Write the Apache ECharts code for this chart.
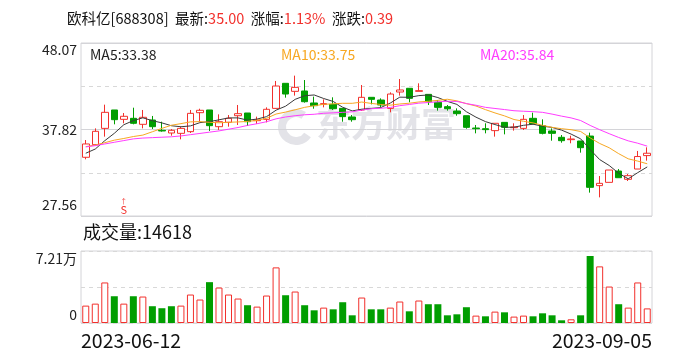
<!DOCTYPE html>
<html><head><meta charset="utf-8">
<script src="https://cdn.jsdelivr.net/npm/echarts@6/dist/echarts.min.js"></script>
<style>html,body{margin:0;padding:0;background:#fff}#c{width:688px;height:360px}</style>
</head><body><div id="c"></div>
<script>
const stockName = '欧科亿';
const stockCode = '688308';
const dates = [
 '2023-06-12','2023-06-13','2023-06-14','2023-06-15','2023-06-16','2023-06-19','2023-06-20','2023-06-21','2023-06-26','2023-06-27',
 '2023-06-28','2023-06-29','2023-06-30','2023-07-03','2023-07-04','2023-07-05','2023-07-06','2023-07-07','2023-07-10','2023-07-11',
 '2023-07-12','2023-07-13','2023-07-14','2023-07-17','2023-07-18','2023-07-19','2023-07-20','2023-07-21','2023-07-24','2023-07-25',
 '2023-07-26','2023-07-27','2023-07-28','2023-07-31','2023-08-01','2023-08-02','2023-08-03','2023-08-04','2023-08-07','2023-08-08',
 '2023-08-09','2023-08-10','2023-08-11','2023-08-14','2023-08-15','2023-08-16','2023-08-17','2023-08-18','2023-08-21','2023-08-22',
 '2023-08-23','2023-08-24','2023-08-25','2023-08-28','2023-08-29','2023-08-30','2023-08-31','2023-09-01','2023-09-04','2023-09-05'];
const opens = [34.52,36.02,37.95,40.13,39.02,39.14,38.43,38.94,37.72,37.40,
 37.36,37.56,39.81,40.13,38.15,38.67,39.45,39.77,38.86,39.02,
 40.32,43.29,42.34,42.38,40.96,40.80,40.80,40.32,39.30,40.13,
 41.63,41.31,40.32,42.26,42.70,42.34,41.98,41.04,40.52,40.01,
 39.45,37.99,37.91,37.68,38.66,38.03,37.95,39.14,38.27,37.64,
 36.89,36.61,36.45,37.04,31.16,31.55,32.89,31.91,33.13,34.72];
const closes = [36.10,37.60,39.85,38.98,39.38,38.55,39.26,38.15,37.64,37.72,
 37.95,39.73,40.09,38.27,38.74,39.14,39.69,38.74,38.94,40.21,
 42.97,42.02,42.81,41.11,40.64,40.88,40.28,39.34,38.98,41.63,
 41.39,40.72,42.02,42.50,41.51,42.42,41.11,40.44,40.28,39.69,
 38.07,37.91,37.80,38.55,38.07,38.11,39.02,38.47,37.36,37.36,
 36.49,36.69,35.66,30.96,31.43,33.01,32.10,32.34,34.61,35.00];
const lows = [34.28,35.94,36.97,38.43,38.55,38.43,37.95,37.87,37.56,37.08,
 36.65,37.40,38.74,37.64,37.76,38.15,38.35,38.23,38.47,38.66,
 40.28,41.59,41.83,41.00,40.28,40.44,40.13,38.74,38.74,40.01,
 40.80,40.40,39.85,41.83,41.04,42.34,40.72,40.05,40.05,39.45,
 37.91,37.36,37.36,36.97,37.24,37.68,37.76,38.47,37.24,36.49,
 36.25,36.18,35.07,30.33,29.77,31.55,32.10,31.71,33.13,34.12];
const highs = [36.57,37.95,40.76,40.13,39.77,40.40,40.13,39.42,38.74,37.87,
 38.15,40.13,40.28,40.13,39.61,39.53,40.72,39.77,39.34,40.44,
 43.57,43.29,44.20,43.68,41.71,41.39,41.63,40.32,39.53,43.09,
 41.63,41.51,42.22,43.80,42.70,43.29,41.98,41.31,40.72,40.32,
 39.45,38.35,38.55,38.55,38.66,38.55,39.53,39.81,39.02,37.95,
 37.16,37.08,36.45,37.44,32.30,33.01,33.13,32.54,35.27,35.70];
const ma5 = [35.00,35.50,36.49,37.36,38.38,38.87,39.20,38.86,38.60,38.26,
 38.14,38.24,38.63,38.75,38.96,39.19,39.19,38.92,39.05,39.34,
 40.11,40.58,41.39,41.82,41.91,41.49,41.14,40.45,40.02,40.22,
 40.32,40.41,40.95,41.65,41.63,41.83,41.91,41.60,41.15,40.79,
 39.92,39.28,38.75,38.40,38.08,38.09,38.31,38.44,38.21,38.06,
 37.74,37.27,36.71,35.43,34.25,33.55,32.63,31.97,32.70,33.38];
const ma10 = [35.78,35.98,36.25,36.55,36.75,36.98,37.15,37.55,37.95,38.32,
 38.51,38.72,38.75,38.67,38.61,38.67,38.71,38.77,38.90,39.15,
 39.65,39.88,40.15,40.44,40.63,40.80,40.86,40.92,40.92,41.07,
 40.91,40.78,40.70,40.84,40.93,41.08,41.16,41.27,41.40,41.21,
 40.88,40.60,40.17,39.78,39.43,39.00,38.79,38.60,38.31,38.07,
 37.91,37.79,37.58,36.82,36.16,35.65,34.95,34.34,34.07,33.75];
const ma20 = [35.75,35.90,36.10,36.30,36.50,36.70,36.80,36.85,36.90,36.95,
 37.05,37.20,37.35,37.50,37.65,37.85,38.05,38.30,38.50,38.74,
 39.08,39.30,39.45,39.56,39.62,39.74,39.79,39.85,39.91,40.11,
 40.28,40.33,40.43,40.64,40.78,40.94,41.01,41.10,41.16,41.14,
 40.89,40.69,40.44,40.31,40.18,40.04,39.98,39.93,39.85,39.64,
 39.40,39.19,38.88,38.30,37.79,37.32,36.87,36.47,36.19,35.84];
const volumes = [17400,19400,40600,26800,19400,26800,26500,16800,14800,16800,
 17400,28500,23500,40900,35500,28500,24500,17800,16400,27500,
 55700,27800,31500,17800,12700,15400,13700,20800,7700,25500,
 13700,13700,15400,21500,11700,22500,18800,18800,7700,8700,
 15800,7400,6700,11400,10700,6400,7400,6700,9700,7700,
 2700,3700,7700,67100,56700,36500,18800,15400,40600,14618];
const volumeUp = [1,1,1,0,1,0,1,0,0,0,
 1,1,1,0,1,1,1,0,1,1,
 1,0,1,0,0,1,0,0,0,1,
 0,0,1,1,0,1,0,0,0,0,
 0,1,0,1,0,1,1,0,0,0,
 0,1,0,0,1,1,0,1,1,1];
const priceTicks = [27.56, 37.82, 48.07];
const volumeMax = 72100;
const volumeTickLabels = ['0', '7.21万'];
const events = [{ index: 4, label: 'S' }];

const RED = '#f2302c', GREEN = '#009e00';
const FONT = '"Noto Sans CJK SC", "Noto Sans", sans-serif';
const n = dates.length;
const last = closes[n - 1], prev = closes[n - 2];
const chg = (last - prev).toFixed(2);
const pct = ((last - prev) / prev * 100).toFixed(2);

const chart = echarts.init(document.getElementById('c'), null, { renderer: 'canvas' });
const hidden = { axisLine: { show: false }, axisTick: { show: false }, axisLabel: { show: false }, splitLine: { show: false } };

chart.setOption({
  animation: false,
  backgroundColor: '#fff',
  textStyle: { fontFamily: FONT },
  grid: [
    { left: 81, right: 36, top: 43, height: 173, show: true, borderColor: '#d4d4d8', borderWidth: 1 },
    { left: 81, right: 36, top: 251, height: 72, show: true, borderColor: '#d4d4d8', borderWidth: 1 }
  ],
  xAxis: [
    Object.assign({ type: 'category', gridIndex: 0, data: dates, boundaryGap: true }, hidden),
    Object.assign({ type: 'category', gridIndex: 1, data: dates, boundaryGap: true, position: 'top' }, hidden),
    { type: 'category', gridIndex: 1, data: [dates[0], dates[n - 1]], boundaryGap: false, position: 'bottom',
      axisLine: { show: false }, axisTick: { show: false }, splitLine: { show: false },
      axisLabel: { show: true, interval: 0, fontSize: 19.5, color: '#111', margin: 8, fontFamily: FONT,
        alignMinLabel: 'left', alignMaxLabel: 'right' } }
  ],
  yAxis: [
    Object.assign({ type: 'value', gridIndex: 0, min: priceTicks[0], max: priceTicks[priceTicks.length - 1], position: 'left' }, hidden),
    { type: 'value', gridIndex: 0, min: 0, max: 4, interval: 1, position: 'left',
      axisLine: { show: false }, axisTick: { show: false },
      splitLine: { show: true, lineStyle: { color: '#d8d8d8', type: [4, 4], width: 1 } },
      axisLabel: { show: true, color: '#222', fontSize: 14, margin: 4, fontFamily: FONT,
        verticalAlignMaxLabel: 'top', verticalAlignMinLabel: 'bottom',
        formatter: function (v) {
          if (v === 0) return '{b|' + priceTicks[0].toFixed(2) + '}';
          if (v === 2) return priceTicks[1].toFixed(2);
          if (v === 4) return priceTicks[2].toFixed(2);
          return '';
        },
        rich: { b: { padding: [0, 0, 4, 0], fontSize: 14, color: '#222' } } } },
    Object.assign({ type: 'value', gridIndex: 0, min: 0, max: 2, interval: 1, position: 'right' }, hidden,
      { splitLine: { show: true, lineStyle: { color: '#d4d4d8', type: 'solid', width: 1 } } }),
    { type: 'value', gridIndex: 1, min: 0, max: volumeMax, interval: volumeMax / 2,
      axisLine: { show: false }, axisTick: { show: false },
      splitLine: { show: true, lineStyle: { color: '#d8d8d8', type: [4, 4], width: 1 } },
      axisLabel: { show: true, color: '#222', fontSize: 14, margin: 4, fontFamily: FONT,
        formatter: function (v) {
          if (v === 0) return '{b|' + volumeTickLabels[0] + '}';
          if (v === volumeMax) return '{t|' + volumeTickLabels[1] + '}';
          return '';
        },
        rich: { t: { padding: [16, 0, 0, 0], fontSize: 14, color: '#222' }, b: { padding: [0, 0, 16, 0], fontSize: 14, color: '#222' } } } }
  ],
  series: [
    { type: 'candlestick', xAxisIndex: 0, yAxisIndex: 0, barWidth: 7,
      data: opens.map((o, i) => [o, closes[i], lows[i], highs[i]]),
      itemStyle: { color: '#fff', color0: GREEN, borderColor: RED, borderColor0: GREEN, borderWidth: 1 },
      markPoint: { symbol: 'rect', symbolSize: [1, 1], itemStyle: { color: 'rgba(0,0,0,0)' }, silent: true,
        label: { show: true, position: 'top', distance: 0, formatter: function (p) { return '{a|↑}\n{s|' + p.name + '}'; },
          rich: { a: { fontSize: 7, color: RED, lineHeight: 6, align: 'center' }, s: { fontSize: 11, color: RED, lineHeight: 11, align: 'center' } } },
        data: events.map(e => ({ name: e.label, coord: [e.index, priceTicks[0]] })) } },
    { type: 'line', name: 'MA5', xAxisIndex: 0, yAxisIndex: 0, data: ma5, symbol: 'none', lineStyle: { color: '#3a3a3a', width: 1 } },
    { type: 'line', name: 'MA10', xAxisIndex: 0, yAxisIndex: 0, data: ma10, symbol: 'none', lineStyle: { color: '#f7a823', width: 1 } },
    { type: 'line', name: 'MA20', xAxisIndex: 0, yAxisIndex: 0, data: ma20, symbol: 'none', lineStyle: { color: '#ff3cff', width: 1 } },
    { type: 'bar', xAxisIndex: 1, yAxisIndex: 3, barWidth: 7,
      data: volumes.map((v, i) => ({ value: v, itemStyle: volumeUp[i] ? { color: '#fff', borderColor: RED, borderWidth: 1 } : { color: GREEN } })) }
  ],
  graphic: [
    { type: 'group', z: 0, silent: true, children: [
      { type: 'arc', shape: { cx: 296, cy: 127, r: 14, startAngle: 0.6, endAngle: 5.3 }, style: { stroke: '#e3e3e8', lineWidth: 8, fill: null } },
      { type: 'text', left: 316, top: 106, style: { text: '东方财富', font: 'bold 35px ' + FONT, fill: '#e3e3e8' } }
    ] },
    { type: 'text', left: 67, top: 11, z: 10, style: {
      text: '{n|' + stockName + '[' + stockCode + ']  最新:}{r|' + last.toFixed(2) + '}{n|  涨幅:}{r|' + pct + '%}{n|  涨跌:}{r|' + chg + '}',
      font: '14.5px ' + FONT,
      rich: { n: { fill: '#111', fontSize: 14.5, fontFamily: FONT }, r: { fill: RED, fontSize: 14.5, fontFamily: FONT } } } },
    { type: 'text', left: 90, top: 48, z: 10, style: { text: 'MA5:' + ma5[n - 1].toFixed(2), font: '14px ' + FONT, fill: '#222' } },
    { type: 'text', left: 281, top: 48, z: 10, style: { text: 'MA10:' + ma10[n - 1].toFixed(2), font: '14px ' + FONT, fill: '#f7a823' } },
    { type: 'text', left: 480, top: 48, z: 10, style: { text: 'MA20:' + ma20[n - 1].toFixed(2), font: '14px ' + FONT, fill: '#ff3cff' } },
    { type: 'text', left: 83, top: 223, z: 10, style: { text: '成交量:' + volumes[n - 1], font: '18px ' + FONT, fill: '#111' } }
  ]
});
</script></body></html>
